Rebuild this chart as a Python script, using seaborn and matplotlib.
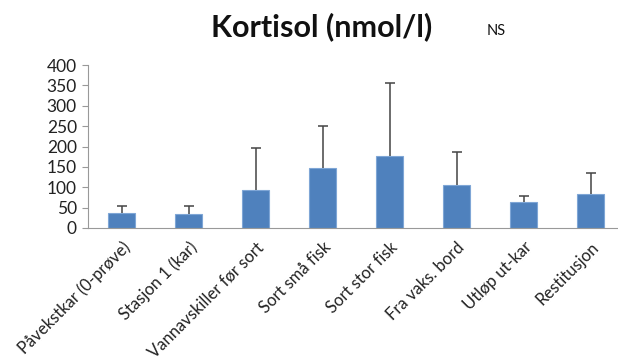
import numpy as np
import pandas as pd
import matplotlib
matplotlib.use("Agg")
import matplotlib.pyplot as plt
import seaborn as sns

# data
categories = ["Påvekstkar (0-prøve)", "Stasjon 1 (kar)", "Vannavskiller før sort",
              "Sort små fisk", "Sort stor fisk", "Fra vaks. bord",
              "Utløp ut-kar", "Restitusjon"]
kortisol = [37, 34, 94, 147, 177, 105, 65, 83]
sd = [18, 21, 103, 103, 180, 82, 13, 51]
y_ticks = [0, 50, 100, 150, 200, 250, 300, 350, 400]

df = pd.DataFrame({"stasjon": categories, "kortisol": kortisol})

sns.set_style("white")
plt.rcParams["font.family"] = ["Lato", "DejaVu Sans"]

fig = plt.figure(figsize=(6.18, 3.6), dpi=100)
ax = fig.add_axes([88 / 618, 132 / 360, 536 / 618, 163 / 360])

sns.barplot(data=df, x="stasjon", y="kortisol", color="#4F81BD",
            width=0.4, saturation=1, edgecolor="#7FA6D6", linewidth=0.8,
            errorbar=None, ax=ax)

# one-sided error bars (upper only), drop the lower cap
_, caps, _ = ax.errorbar(np.arange(len(categories)), kortisol,
                         yerr=[np.zeros(len(sd)), sd], fmt="none",
                         ecolor="#444444", elinewidth=1.1, capsize=3.5, capthick=1.1)
caps[0].set_visible(False)

ax.set_ylim(0, 400)
ax.set_xlim(-0.5, len(categories) - 0.5)
ax.set_yticks(y_ticks)
ax.set_yticklabels([str(v) for v in y_ticks], fontsize=12.5, color="#222222")
ax.set_xticks(np.arange(len(categories)))
ax.set_xticklabels(categories, rotation=45, ha="right", rotation_mode="anchor",
                   fontsize=12, color="#222222")
ax.set_xticks(np.arange(len(categories) + 1) - 0.5, minor=True)
ax.tick_params(axis="x", which="major", length=0, pad=8)
ax.tick_params(axis="x", which="minor", length=5, direction="out", color="#999999", width=0.8)
ax.tick_params(axis="y", length=4, direction="out", color="#999999", width=0.8, pad=4, left=True)
ax.set_xlabel("")
ax.set_ylabel("")

for side in ["top", "right"]:
    ax.spines[side].set_visible(False)
for side in ["left", "bottom"]:
    ax.spines[side].set_color("#999999")
    ax.spines[side].set_linewidth(0.8)

fig.text(322 / 618, 1 - 27 / 360, "Kortisol (nmol/l)", ha="center", va="center",
         fontsize=22, fontweight="bold", color="#111111")
fig.text(496 / 618, 1 - 31 / 360, "NS", ha="center", va="center",
         fontsize=10.5, color="#111111")

fig.savefig("out.png", dpi=100)
